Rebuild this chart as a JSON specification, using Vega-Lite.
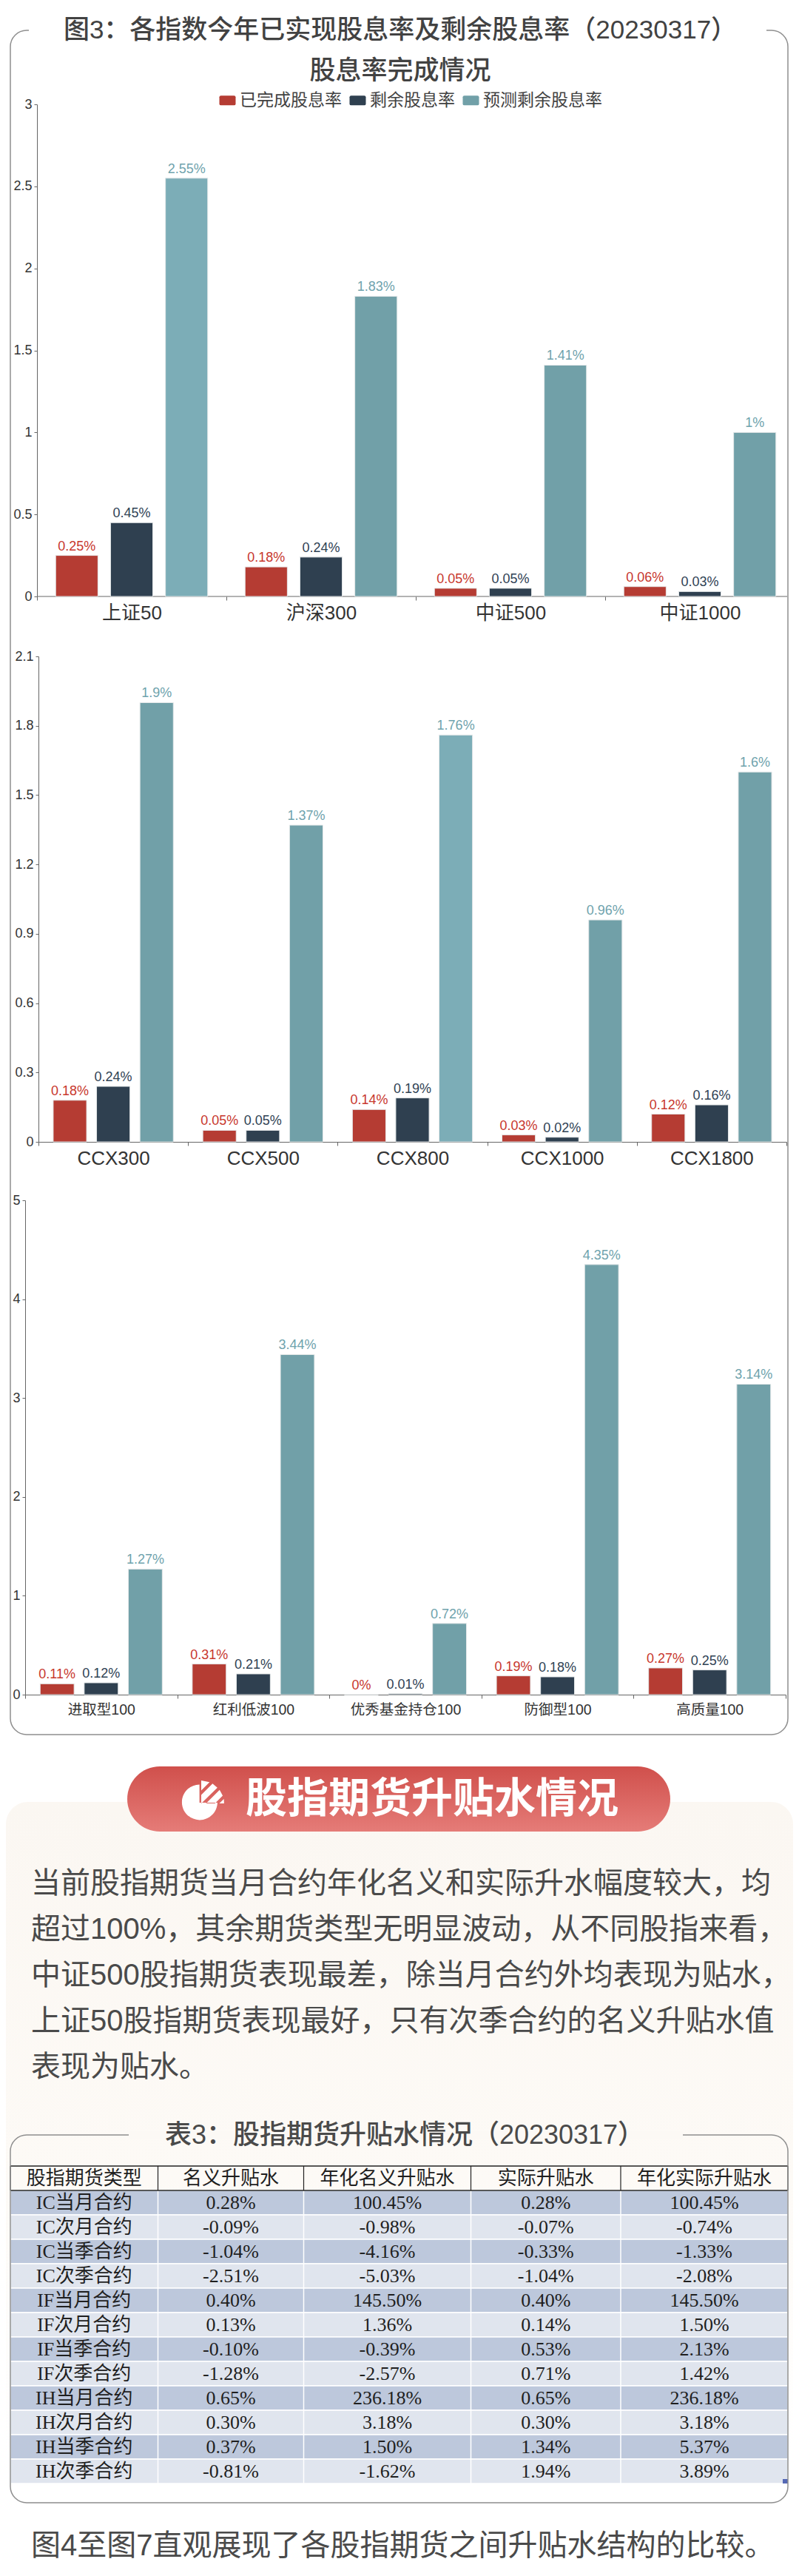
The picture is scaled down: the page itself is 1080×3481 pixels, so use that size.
{"$schema":"https://vega.github.io/schema/vega-lite/v6.json","width":1080,"height":3481,"padding":0,"autosize":{"type":"none"},"background":"#ffffff","config":{"view":{"stroke":null},"font":"'Liberation Sans','Noto Sans CJK SC',sans-serif"},
"datasets":{
"p1":[{"index":"上证50","series":"已完成股息率","value":0.25,"label":"0.25%"},{"index":"上证50","series":"剩余股息率","value":0.45,"label":"0.45%"},{"index":"上证50","series":"预测剩余股息率","value":2.55,"label":"2.55%"},{"index":"沪深300","series":"已完成股息率","value":0.18,"label":"0.18%"},{"index":"沪深300","series":"剩余股息率","value":0.24,"label":"0.24%"},{"index":"沪深300","series":"预测剩余股息率","value":1.83,"label":"1.83%"},{"index":"中证500","series":"已完成股息率","value":0.05,"label":"0.05%"},{"index":"中证500","series":"剩余股息率","value":0.05,"label":"0.05%"},{"index":"中证500","series":"预测剩余股息率","value":1.41,"label":"1.41%"},{"index":"中证1000","series":"已完成股息率","value":0.06,"label":"0.06%"},{"index":"中证1000","series":"剩余股息率","value":0.03,"label":"0.03%"},{"index":"中证1000","series":"预测剩余股息率","value":1,"label":"1%"}],
"p2":[{"index":"CCX300","series":"已完成股息率","value":0.18,"label":"0.18%"},{"index":"CCX300","series":"剩余股息率","value":0.24,"label":"0.24%"},{"index":"CCX300","series":"预测剩余股息率","value":1.9,"label":"1.9%"},{"index":"CCX500","series":"已完成股息率","value":0.05,"label":"0.05%"},{"index":"CCX500","series":"剩余股息率","value":0.05,"label":"0.05%"},{"index":"CCX500","series":"预测剩余股息率","value":1.37,"label":"1.37%"},{"index":"CCX800","series":"已完成股息率","value":0.14,"label":"0.14%"},{"index":"CCX800","series":"剩余股息率","value":0.19,"label":"0.19%"},{"index":"CCX800","series":"预测剩余股息率","value":1.76,"label":"1.76%"},{"index":"CCX1000","series":"已完成股息率","value":0.03,"label":"0.03%"},{"index":"CCX1000","series":"剩余股息率","value":0.02,"label":"0.02%"},{"index":"CCX1000","series":"预测剩余股息率","value":0.96,"label":"0.96%"},{"index":"CCX1800","series":"已完成股息率","value":0.12,"label":"0.12%"},{"index":"CCX1800","series":"剩余股息率","value":0.16,"label":"0.16%"},{"index":"CCX1800","series":"预测剩余股息率","value":1.6,"label":"1.6%"}],
"p3":[{"index":"进取型100","series":"已完成股息率","value":0.11,"label":"0.11%"},{"index":"进取型100","series":"剩余股息率","value":0.12,"label":"0.12%"},{"index":"进取型100","series":"预测剩余股息率","value":1.27,"label":"1.27%"},{"index":"红利低波100","series":"已完成股息率","value":0.31,"label":"0.31%"},{"index":"红利低波100","series":"剩余股息率","value":0.21,"label":"0.21%"},{"index":"红利低波100","series":"预测剩余股息率","value":3.44,"label":"3.44%"},{"index":"优秀基金持仓100","series":"已完成股息率","value":0,"label":"0%"},{"index":"优秀基金持仓100","series":"剩余股息率","value":0.01,"label":"0.01%"},{"index":"优秀基金持仓100","series":"预测剩余股息率","value":0.72,"label":"0.72%"},{"index":"防御型100","series":"已完成股息率","value":0.19,"label":"0.19%"},{"index":"防御型100","series":"剩余股息率","value":0.18,"label":"0.18%"},{"index":"防御型100","series":"预测剩余股息率","value":4.35,"label":"4.35%"},{"index":"高质量100","series":"已完成股息率","value":0.27,"label":"0.27%"},{"index":"高质量100","series":"剩余股息率","value":0.25,"label":"0.25%"},{"index":"高质量100","series":"预测剩余股息率","value":3.14,"label":"3.14%"}],
"bodyRows":[{"row":"IC当月合约"},{"row":"IC次月合约"},{"row":"IC当季合约"},{"row":"IC次季合约"},{"row":"IF当月合约"},{"row":"IF次月合约"},{"row":"IF当季合约"},{"row":"IF次季合约"},{"row":"IH当月合约"},{"row":"IH次月合约"},{"row":"IH当季合约"},{"row":"IH次季合约"}],
"cells":[
{"row":"表头","col":0,"text":"股指期货类型"},{"row":"表头","col":1,"text":"名义升贴水"},{"row":"表头","col":2,"text":"年化名义升贴水"},{"row":"表头","col":3,"text":"实际升贴水"},{"row":"表头","col":4,"text":"年化实际升贴水"},
{"row":"IC当月合约","col":0,"text":"IC当月合约"},{"row":"IC当月合约","col":1,"text":"0.28%"},{"row":"IC当月合约","col":2,"text":"100.45%"},{"row":"IC当月合约","col":3,"text":"0.28%"},{"row":"IC当月合约","col":4,"text":"100.45%"},
{"row":"IC次月合约","col":0,"text":"IC次月合约"},{"row":"IC次月合约","col":1,"text":"-0.09%"},{"row":"IC次月合约","col":2,"text":"-0.98%"},{"row":"IC次月合约","col":3,"text":"-0.07%"},{"row":"IC次月合约","col":4,"text":"-0.74%"},
{"row":"IC当季合约","col":0,"text":"IC当季合约"},{"row":"IC当季合约","col":1,"text":"-1.04%"},{"row":"IC当季合约","col":2,"text":"-4.16%"},{"row":"IC当季合约","col":3,"text":"-0.33%"},{"row":"IC当季合约","col":4,"text":"-1.33%"},
{"row":"IC次季合约","col":0,"text":"IC次季合约"},{"row":"IC次季合约","col":1,"text":"-2.51%"},{"row":"IC次季合约","col":2,"text":"-5.03%"},{"row":"IC次季合约","col":3,"text":"-1.04%"},{"row":"IC次季合约","col":4,"text":"-2.08%"},
{"row":"IF当月合约","col":0,"text":"IF当月合约"},{"row":"IF当月合约","col":1,"text":"0.40%"},{"row":"IF当月合约","col":2,"text":"145.50%"},{"row":"IF当月合约","col":3,"text":"0.40%"},{"row":"IF当月合约","col":4,"text":"145.50%"},
{"row":"IF次月合约","col":0,"text":"IF次月合约"},{"row":"IF次月合约","col":1,"text":"0.13%"},{"row":"IF次月合约","col":2,"text":"1.36%"},{"row":"IF次月合约","col":3,"text":"0.14%"},{"row":"IF次月合约","col":4,"text":"1.50%"},
{"row":"IF当季合约","col":0,"text":"IF当季合约"},{"row":"IF当季合约","col":1,"text":"-0.10%"},{"row":"IF当季合约","col":2,"text":"-0.39%"},{"row":"IF当季合约","col":3,"text":"0.53%"},{"row":"IF当季合约","col":4,"text":"2.13%"},
{"row":"IF次季合约","col":0,"text":"IF次季合约"},{"row":"IF次季合约","col":1,"text":"-1.28%"},{"row":"IF次季合约","col":2,"text":"-2.57%"},{"row":"IF次季合约","col":3,"text":"0.71%"},{"row":"IF次季合约","col":4,"text":"1.42%"},
{"row":"IH当月合约","col":0,"text":"IH当月合约"},{"row":"IH当月合约","col":1,"text":"0.65%"},{"row":"IH当月合约","col":2,"text":"236.18%"},{"row":"IH当月合约","col":3,"text":"0.65%"},{"row":"IH当月合约","col":4,"text":"236.18%"},
{"row":"IH次月合约","col":0,"text":"IH次月合约"},{"row":"IH次月合约","col":1,"text":"0.30%"},{"row":"IH次月合约","col":2,"text":"3.18%"},{"row":"IH次月合约","col":3,"text":"0.30%"},{"row":"IH次月合约","col":4,"text":"3.18%"},
{"row":"IH当季合约","col":0,"text":"IH当季合约"},{"row":"IH当季合约","col":1,"text":"0.37%"},{"row":"IH当季合约","col":2,"text":"1.50%"},{"row":"IH当季合约","col":3,"text":"1.34%"},{"row":"IH当季合约","col":4,"text":"5.37%"},
{"row":"IH次季合约","col":0,"text":"IH次季合约"},{"row":"IH次季合约","col":1,"text":"-0.81%"},{"row":"IH次季合约","col":2,"text":"-1.62%"},{"row":"IH次季合约","col":3,"text":"1.94%"},{"row":"IH次季合约","col":4,"text":"3.89%"}]
},
"resolve":{"scale":{"x":"independent","y":"independent","xOffset":"independent","color":"shared"}},
"layer":[
{"data":{"values":[{"part":"卡片一"}]},"mark":{"type":"rect","fill":"transparent","stroke":"#8f8f8f","strokeWidth":1.5,"cornerRadius":22},"encoding":{"x":{"field":"part","type":"nominal","axis":null,"scale":{"type":"band","range":[14,1065],"paddingInner":0,"paddingOuter":0}},"y":{"field":"part","type":"nominal","axis":null,"scale":{"type":"band","range":[41,2344],"paddingInner":0,"paddingOuter":0}}}},
{"data":{"values":[{"part":"标题留白"}]},"mark":{"type":"rect","fill":"#ffffff"},"encoding":{"x":{"field":"part","type":"nominal","axis":null,"scale":{"type":"band","range":[39,1036],"paddingInner":0,"paddingOuter":0}},"y":{"field":"part","type":"nominal","axis":null,"scale":{"type":"band","range":[36,46],"paddingInner":0,"paddingOuter":0}}}},
{"data":{"values":[{"part":"全文","line":"图3\uFF1A各指数今年已实现股息率及剩余股息率\uFF0820230317\uFF09"},{"part":"全文","line":"股息率完成情况"}]},"mark":{"type":"text","fontSize":35,"fontWeight":500,"color":"#424242","align":"center","baseline":"middle"},"encoding":{"text":{"field":"line"},"x":{"field":"part","type":"nominal","axis":null,"scale":{"type":"point","range":[541,541]}},"y":{"field":"line","type":"nominal","axis":null,"sort":null,"scale":{"type":"point","range":[41,96],"padding":0}}}},
{"data":{"values":[{"part":"轴线"}]},"mark":{"type":"rule","color":"#666666","strokeWidth":1},"encoding":{"x":{"datum":0,"type":"quantitative","axis":null,"scale":{"domain":[0,1],"range":[50,1064]}},"x2":{"datum":1},"y":{"field":"part","type":"nominal","axis":null,"scale":{"type":"point","range":[806,806]}}}},
{"data":{"name":"p1"},"layer":[
{"mark":{"type":"bar","stroke":"#e6e9ea","strokeWidth":1},"encoding":{
"x":{"field":"index","type":"nominal","sort":null,"scale":{"type":"band","range":[50,1074],"paddingInner":0,"paddingOuter":0},"axis":{"orient":"bottom","offset":-2675,"title":null,"labelAngle":0,"labelFontSize":26,"labelColor":"#333333","labelPadding":4,"labelOverlap":false,"labelLimit":400,"tickBand":"extent","tickExtra":false,"tickSize":5,"tickColor":"#666666","domain":false,"grid":false}},
"xOffset":{"field":"series","type":"nominal","sort":null,"scale":{"domain":["已完成股息率","剩余股息率","预测剩余股息率"],"paddingInner":0.23,"paddingOuter":0.34}},
"y":{"field":"value","type":"quantitative","scale":{"domain":[0,3],"range":[806,141],"nice":false},"axis":{"orient":"left","offset":-50,"title":null,"values":[0,0.5,1,1.5,2,2.5,3],"format":".2~f","labelFontSize":18,"labelColor":"#333333","labelPadding":3,"tickSize":4,"tickColor":"#666666","domainColor":"#666666","grid":false}},
"color":{"condition":{"test":"datum.index==='上证50'&&datum.series==='预测剩余股息率'","value":"#7cadb7"},"field":"series","type":"nominal","sort":null,"scale":{"domain":["已完成股息率","剩余股息率","预测剩余股息率"],"range":["#b53c33","#2f4050","#71a0a8"]},"legend":{"orient":"none","legendX":296,"legendY":124,"direction":"horizontal","columns":3,"title":null,"labelFontSize":23,"labelColor":"#424242","labelLimit":400,"labelOffset":5,"symbolSize":484,"symbolStrokeWidth":0,"symbolType":"M-0.8,-0.6 H0.8 Q1,-0.6 1,-0.4 V0.4 Q1,0.6 0.8,0.6 H-0.8 Q-1,0.6 -1,0.4 V-0.4 Q-1,-0.6 -0.8,-0.6 Z","columnPadding":10,"gridAlign":"each"}}}},
{"mark":{"type":"text","fontSize":18,"baseline":"bottom","align":"center","dy":-3},"encoding":{"x":{"field":"index","type":"nominal","sort":null},"xOffset":{"field":"series","type":"nominal","sort":null},"y":{"field":"value","type":"quantitative"},"text":{"field":"label"},"color":{"condition":[{"test":"datum.series==='已完成股息率'","value":"#c8372d"},{"test":"datum.series==='剩余股息率'","value":"#2f4254"}],"value":"#6fa3ad"}}}
]},
{"data":{"values":[{"part":"轴外留白"}]},"mark":{"type":"rect","fill":"#ffffff"},"encoding":{"x":{"field":"part","type":"nominal","axis":null,"scale":{"type":"band","range":[1067,1080],"paddingInner":0,"paddingOuter":0}},"y":{"field":"part","type":"nominal","axis":null,"scale":{"type":"band","range":[800,816],"paddingInner":0,"paddingOuter":0}}}},
{"data":{"name":"p2"},"layer":[
{"mark":{"type":"bar","stroke":"#e6e9ea","strokeWidth":1},"encoding":{
"x":{"field":"index","type":"nominal","sort":null,"scale":{"type":"band","range":[52,1063],"paddingInner":0,"paddingOuter":0},"axis":{"orient":"bottom","offset":-1938,"title":null,"labelAngle":0,"labelFontSize":26,"labelColor":"#333333","labelPadding":4,"labelOverlap":false,"labelLimit":400,"tickBand":"extent","tickSize":5,"tickColor":"#666666","domainColor":"#666666","grid":false}},
"xOffset":{"field":"series","type":"nominal","sort":null,"scale":{"domain":["已完成股息率","剩余股息率","预测剩余股息率"],"paddingInner":0.23,"paddingOuter":0.34}},
"y":{"field":"value","type":"quantitative","scale":{"domain":[0,2.1],"range":[1543,887],"nice":false},"axis":{"orient":"left","offset":-52,"title":null,"values":[0,0.3,0.6,0.9,1.2,1.5,1.8,2.1],"format":".2~f","labelFontSize":18,"labelColor":"#333333","labelPadding":3,"tickSize":4,"tickColor":"#666666","domainColor":"#666666","grid":false}},
"color":{"condition":{"test":"datum.index==='CCX800'&&datum.series==='预测剩余股息率'","value":"#7cadb7"},"field":"series","type":"nominal","sort":null,"legend":null}}},
{"mark":{"type":"text","fontSize":18,"baseline":"bottom","align":"center","dy":-3},"encoding":{"x":{"field":"index","type":"nominal","sort":null},"xOffset":{"field":"series","type":"nominal","sort":null},"y":{"field":"value","type":"quantitative"},"text":{"field":"label"},"color":{"condition":[{"test":"datum.series==='已完成股息率'","value":"#c8372d"},{"test":"datum.series==='剩余股息率'","value":"#2f4254"}],"value":"#6fa3ad"}}}
]},
{"data":{"name":"p3"},"layer":[
{"mark":{"type":"bar","stroke":"#e6e9ea","strokeWidth":1},"encoding":{
"x":{"field":"index","type":"nominal","sort":null,"scale":{"type":"band","range":[34,1062],"paddingInner":0,"paddingOuter":0},"axis":{"orient":"bottom","offset":-1191,"title":null,"labelAngle":0,"labelFontSize":19.5,"labelColor":"#333333","labelPadding":6,"labelOverlap":false,"labelLimit":400,"tickBand":"extent","tickSize":5,"tickColor":"#666666","domainColor":"#666666","grid":false}},
"xOffset":{"field":"series","type":"nominal","sort":null,"scale":{"domain":["已完成股息率","剩余股息率","预测剩余股息率"],"paddingInner":0.23,"paddingOuter":0.34}},
"y":{"field":"value","type":"quantitative","scale":{"domain":[0,5],"range":[2290,1622],"nice":false},"axis":{"orient":"left","offset":-34,"title":null,"values":[0,1,2,3,4,5],"format":".2~f","labelFontSize":18,"labelColor":"#333333","labelPadding":3,"tickSize":4,"tickColor":"#666666","domainColor":"#666666","grid":false}},
"color":{"field":"series","type":"nominal","sort":null,"legend":null}}},
{"mark":{"type":"text","fontSize":18,"baseline":"bottom","align":"center","dy":-3},"encoding":{"x":{"field":"index","type":"nominal","sort":null},"xOffset":{"field":"series","type":"nominal","sort":null},"y":{"field":"value","type":"quantitative"},"text":{"field":"label"},"color":{"condition":[{"test":"datum.series==='已完成股息率'","value":"#c8372d"},{"test":"datum.series==='剩余股息率'","value":"#2f4254"}],"value":"#6fa3ad"}}}
]},
{"data":{"values":[{"part":"米色底"}]},"mark":{"type":"rect","cornerRadius":30,"fill":{"gradient":"linear","x1":0,"y1":0,"x2":0,"y2":1,"stops":[{"offset":0,"color":"#fbf7f2"},{"offset":0.55,"color":"#fdfaf6"},{"offset":0.95,"color":"#ffffff"}]}},"encoding":{"x":{"field":"part","type":"nominal","axis":null,"scale":{"type":"band","range":[8,1072],"paddingInner":0,"paddingOuter":0}},"y":{"field":"part","type":"nominal","axis":null,"scale":{"type":"band","range":[2435,3360],"paddingInner":0,"paddingOuter":0}}}},
{"data":{"values":[{"part":"标题条"}]},"mark":{"type":"rect","cornerRadius":44,"fill":{"gradient":"linear","x1":0,"y1":0,"x2":0,"y2":1,"stops":[{"offset":0,"color":"#d0504c"},{"offset":1,"color":"#e57c78"}]}},"encoding":{"x":{"field":"part","type":"nominal","axis":null,"scale":{"type":"band","range":[172,906],"paddingInner":0,"paddingOuter":0}},"y":{"field":"part","type":"nominal","axis":null,"scale":{"type":"band","range":[2387,2475],"paddingInner":0,"paddingOuter":0}}}},
{"data":{"values":[{"part":"图标"}]},"mark":{"type":"point","filled":true,"color":"#ffffff","opacity":1,"size":3600,"strokeWidth":0,"shape":"M-0.18,-0.62 A0.8,0.8 0 1 0 0.63,0.2 L-0.18,0.2 Z M-0.1,-0.8 L0.275,-0.725 L-0.1,-0.35 Z M-0.1,-0.15 L0.411,-0.661 L0.628,-0.478 L-0.1,0.233 Z M0.117,0.233 L0.728,-0.378 L0.868,-0.118 L0.517,0.233 Z M0.717,0.233 L0.92,0.03 L0.93,0.233 Z"},"encoding":{"x":{"field":"part","type":"nominal","axis":null,"scale":{"type":"point","range":[275,275]}},"y":{"field":"part","type":"nominal","axis":null,"scale":{"type":"point","range":[2430,2430]}}}},
{"data":{"values":[{"part":"标题条文字","line":"股指期货升贴水情况"}]},"mark":{"type":"text","fontSize":56,"fontWeight":700,"color":"#ffffff","align":"center","baseline":"middle"},"encoding":{"text":{"field":"line"},"x":{"field":"part","type":"nominal","axis":null,"scale":{"type":"point","range":[584,584]}},"y":{"field":"part","type":"nominal","axis":null,"scale":{"type":"point","range":[2432,2432]}}}},
{"data":{"values":[{"part":"正文","line":"当前股指期货当月合约年化名义和实际升水幅度较大\uFF0C均"},{"part":"正文","line":"超过100%\uFF0C其余期货类型无明显波动\uFF0C从不同股指来看\uFF0C"},{"part":"正文","line":"中证500股指期货表现最差\uFF0C除当月合约外均表现为贴水\uFF0C"},{"part":"正文","line":"上证50股指期货表现最好\uFF0C只有次季合约的名义升贴水值"},{"part":"正文","line":"表现为贴水。"}]},"mark":{"type":"text","fontSize":40,"color":"#4a4a4a","align":"left","baseline":"middle"},"encoding":{"text":{"field":"line"},"x":{"field":"part","type":"nominal","axis":null,"scale":{"type":"point","range":[42,42]}},"y":{"field":"line","type":"nominal","axis":null,"sort":null,"scale":{"type":"point","range":[2546,2794],"padding":0}}}},
{"data":{"name":"bodyRows"},"mark":{"type":"rect","stroke":"#ffffff","strokeWidth":1.5},"encoding":{"x":{"datum":"表体","type":"nominal","axis":null,"scale":{"type":"band","domain":["表体"],"range":[14,1065],"paddingInner":0,"paddingOuter":0}},"y":{"field":"row","type":"nominal","axis":null,"sort":null,"scale":{"type":"band","range":[2960,3356],"paddingInner":0,"paddingOuter":0}},"color":{"condition":{"test":"indexof(datum.row,'当')>=0","value":"#bdc8dc"},"value":"#e0e5ee"}}},
{"data":{"values":[{"edge":1},{"edge":2},{"edge":3},{"edge":4}]},"mark":{"type":"rule","color":"#ffffff","strokeWidth":1.5},"encoding":{"x":{"field":"edge","type":"quantitative","axis":null,"scale":{"domain":[0,1,2,3,4,5],"range":[14,213.5,410.5,636.5,839,1065]}},"y":{"datum":0,"type":"quantitative","axis":null,"scale":{"domain":[0,1],"range":[2960,3356]}},"y2":{"datum":1}}},
{"data":{"values":[{"edge":0},{"edge":1},{"edge":2},{"edge":3},{"edge":4},{"edge":5}]},"mark":{"type":"rule","color":"#222222","strokeWidth":1.2},"encoding":{"x":{"field":"edge","type":"quantitative","axis":null,"scale":{"domain":[0,1,2,3,4,5],"range":[14,213.5,410.5,636.5,839,1065]}},"y":{"datum":0,"type":"quantitative","axis":null,"scale":{"domain":[0,1],"range":[2927,2960]}},"y2":{"datum":1}}},
{"data":{"values":[{"edge":0},{"edge":1}]},"mark":{"type":"rule","color":"#222222","strokeWidth":1.4},"encoding":{"y":{"field":"edge","type":"quantitative","axis":null,"scale":{"domain":[0,1],"range":[2927,2960]}},"x":{"datum":0,"type":"quantitative","axis":null,"scale":{"domain":[0,1],"range":[14,1065]}},"x2":{"datum":1}}},
{"data":{"name":"cells"},"mark":{"type":"text","fontSize":26,"font":"'Liberation Serif','Noto Sans CJK SC',serif","color":"#1f1f1f","align":"center","baseline":"middle"},"encoding":{"text":{"field":"text"},"x":{"field":"col","type":"quantitative","axis":null,"scale":{"domain":[0,1,2,3,4],"range":[113.75,312,523.5,737.75,952]}},"y":{"field":"row","type":"nominal","axis":null,"sort":null,"scale":{"type":"band","range":[2927,3356],"paddingInner":0,"paddingOuter":0}}}},
{"data":{"values":[{"part":"角标"}]},"mark":{"type":"rect","fill":"#5568b5"},"encoding":{"x":{"field":"part","type":"nominal","axis":null,"scale":{"type":"band","range":[1058,1065],"paddingInner":0,"paddingOuter":0}},"y":{"field":"part","type":"nominal","axis":null,"scale":{"type":"band","range":[3350,3356],"paddingInner":0,"paddingOuter":0}}}},
{"data":{"values":[{"part":"卡片二"}]},"mark":{"type":"rect","fill":"transparent","stroke":"#8f8f8f","strokeWidth":1.5,"cornerRadius":22},"encoding":{"x":{"field":"part","type":"nominal","axis":null,"scale":{"type":"band","range":[14,1065],"paddingInner":0,"paddingOuter":0}},"y":{"field":"part","type":"nominal","axis":null,"scale":{"type":"band","range":[2885,3382],"paddingInner":0,"paddingOuter":0}}}},
{"data":{"values":[{"part":"表题留白"}]},"mark":{"type":"rect","fill":"#fcf9f5"},"encoding":{"x":{"field":"part","type":"nominal","axis":null,"scale":{"type":"band","range":[174,923],"paddingInner":0,"paddingOuter":0}},"y":{"field":"part","type":"nominal","axis":null,"scale":{"type":"band","range":[2880,2890],"paddingInner":0,"paddingOuter":0}}}},
{"data":{"values":[{"part":"表题","line":"表3\uFF1A股指期货升贴水情况\uFF0820230317\uFF09"}]},"mark":{"type":"text","fontSize":36,"fontWeight":500,"color":"#4a4a4a","align":"center","baseline":"middle"},"encoding":{"text":{"field":"line"},"x":{"field":"part","type":"nominal","axis":null,"scale":{"type":"point","range":[547,547]}},"y":{"field":"part","type":"nominal","axis":null,"scale":{"type":"point","range":[2886,2886]}}}},
{"data":{"values":[{"part":"结语","line":"图4至图7直观展现了各股指期货之间升贴水结构的比较。"}]},"mark":{"type":"text","fontSize":40,"color":"#4a4a4a","align":"left","baseline":"middle"},"encoding":{"text":{"field":"line"},"x":{"field":"part","type":"nominal","axis":null,"scale":{"type":"point","range":[42,42]}},"y":{"field":"part","type":"nominal","axis":null,"scale":{"type":"point","range":[3441,3441]}}}}
]}
